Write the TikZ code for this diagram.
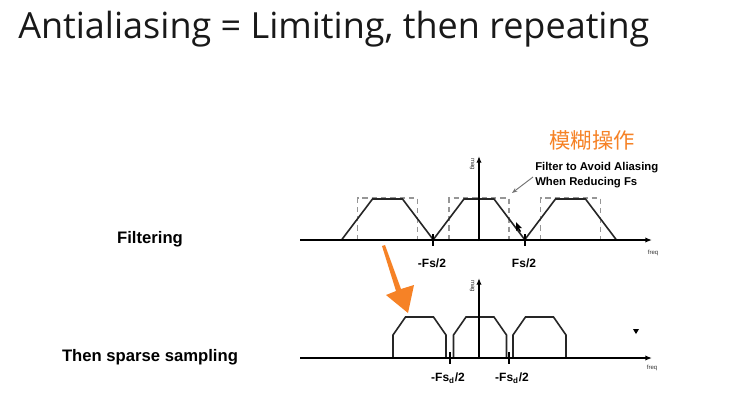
\documentclass[tikz,border=0pt]{standalone}
\usepackage{fontspec}
\setmainfont{Liberation Sans}
\newfontfamily\titlefont{Open Sans}
\newfontfamily\cjk{Noto Sans CJK SC}
\usetikzlibrary{arrows.meta}
\definecolor{orangeA}{RGB}{246,130,38}
\definecolor{dashgray}{RGB}{150,150,150}
\tikzset{
  axisline/.style={line width=1.5pt,-{Latex[length=5pt,width=4pt]}},
  trap/.style={line width=1.2pt, draw=black!85},
  dbox/.style={dashed, line width=0.9pt, draw=dashgray, dash pattern=on 4pt off 3pt},
  tickmark/.style={line width=1.2pt},
  ticklabel/.style={font=\bfseries\fontsize{9}{10}\selectfont},
  tinylabel/.style={font=\fontsize{4.5}{5}\selectfont, text=black!80},
  rowlabel/.style={font=\bfseries\fontsize{12.5}{14}\selectfont},
}
\begin{document}
\begin{tikzpicture}[x=0.75pt,y=-0.75pt]
\useasboundingbox (0,0) rectangle (740,419);
\fill[white] (0,0) rectangle (740,419);

% title
\node[anchor=base west, inner sep=0pt, font=\titlefont\fontsize{27}{32}\selectfont, text=black!90] (title) at (18,38) {Antialiasing = Limiting, then repeating};

% row labels
\node[rowlabel] (lfilt) at (150,239) {Filtering};
\node[rowlabel] (lsparse) at (150,357) {Then sparse sampling};

% ---------- top panel ----------
\coordinate (tx0) at (300,240);
\coordinate (tx1) at (652,240);
\coordinate (ty0) at (479,241);
\coordinate (ty1) at (479,156);
\foreach \c in {387.5,479,570.5}{
  \draw[dbox] (\c-30,240) rectangle (\c+30,198);
  \draw[trap] (\c-46,240) -- (\c-15,199) -- (\c+15,199) -- (\c+46,240);
}
\draw[axisline] (tx0) -- (tx1);
\draw[axisline] (ty0) -- (ty1);
\draw[tickmark] (433,234) -- (433,246);
\draw[tickmark] (525,234) -- (525,246);
\node[ticklabel] (tfm) at (432,263) {-Fs/2};
\node[ticklabel] (tfp) at (524,263) {Fs/2};
\node[tinylabel] (tfreq) at (653,253) {freq};
\node[tinylabel, rotate=-90] (tmag) at (472,164) {mag};

% annotation
\node[anchor=north west, align=left, inner sep=0pt, font=\bfseries\fontsize{8.5}{11}\selectfont] (note) at (535,162) {Filter to Avoid Aliasing\\When Reducing Fs};
\coordinate (notetip) at (512,193);
\draw[draw=black!55, line width=0.7pt, -{Stealth[length=4pt,width=3pt]}] (533,177) -- (notetip);
\node[font=\cjk\fontsize{16}{18}\selectfont, text=orangeA] (cn) at (592,141) {模糊操作};

% cursor mark
\fill[black] (516,222) -- (516,231) -- (518,229) -- (520,232) -- (521,231) -- (519,228) -- (522,228) -- cycle;

% ---------- bottom panel ----------
\coordinate (bx0) at (300,358);
\coordinate (bx1) at (652,358);
\coordinate (by0) at (479,359);
\coordinate (by1) at (479,278);
\foreach \c in {419.5,480,539.5}{
  \draw[trap] (\c-26.5,358) -- (\c-26.5,335) -- (\c-14,317) -- (\c+14,317) -- (\c+26.5,335) -- (\c+26.5,358);
}
\draw[axisline] (bx0) -- (bx1);
\draw[axisline] (by0) -- (by1);
\draw[tickmark] (450,352) -- (450,364);
\draw[tickmark] (509,352) -- (509,364);
\node[ticklabel] (bfm) at (448,378) {-Fs\textsubscript{d}/2};
\node[ticklabel] (bfp) at (512,378) {-Fs\textsubscript{d}/2};
\node[tinylabel] (bfreq) at (652,368) {freq};
\node[tinylabel, rotate=-90] (bmag) at (472,286) {mag};
\fill[black] (633,329) -- (639,329) -- (636,334) -- cycle;

% orange arrow
\fill[orangeA] (382,246) -- (385,245) -- (401,289) -- (414,285) -- (408,313) -- (386,295) -- (396,291) -- cycle;
\end{tikzpicture}
\end{document}
